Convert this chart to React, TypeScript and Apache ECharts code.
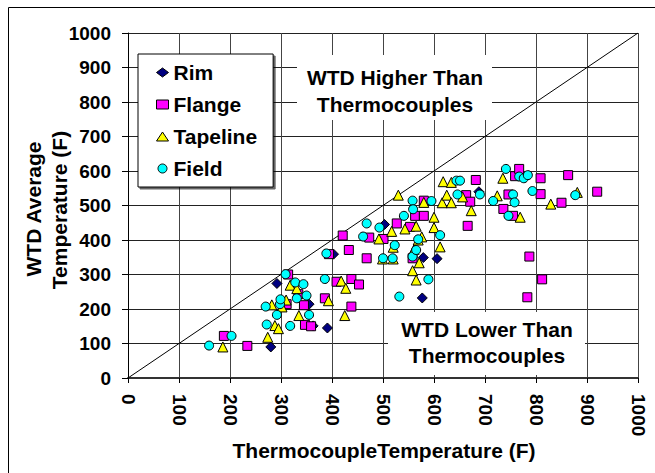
import React, { useEffect, useRef } from "react";
import * as echarts from "echarts";

// Thermocouple temperature (F) vs WTD average temperature (F)
const rim: number[][] = [
  [280, 90], [292, 274], [355, 214], [363, 151], [391, 145], [403, 359],
  [503, 445], [579, 349], [577, 232], [606, 346], [688, 540],
];

const flange: number[][] = [
  [188, 122], [234, 93], [314, 300], [311, 214], [334, 243], [345, 211],
  [347, 154], [359, 150], [386, 231], [394, 359], [409, 279], [421, 413],
  [433, 371], [438, 287], [438, 207], [453, 271], [468, 347], [473, 407],
  [501, 403], [527, 448], [553, 438], [558, 347], [563, 470], [580, 470],
  [580, 514], [663, 530], [666, 441], [671, 511], [682, 574], [736, 490],
  [746, 532], [759, 585], [767, 606], [755, 470], [787, 352], [783, 234],
  [809, 579], [809, 533], [812, 286], [850, 508], [863, 588], [920, 540],
];

const tapeline: number[][] = [
  [186, 90], [274, 118], [282, 212], [288, 152], [295, 143], [302, 206],
  [310, 226], [318, 269], [331, 259], [335, 181], [393, 224], [418, 281],
  [427, 260], [425, 181], [492, 403], [499, 345], [517, 425], [520, 345],
  [520, 379], [530, 530], [543, 432], [558, 311], [561, 373], [565, 440],
  [565, 284], [571, 334], [569, 400], [576, 409], [580, 509], [600, 466],
  [600, 436], [612, 380], [616, 508], [618, 569], [625, 530], [634, 567],
  [634, 508], [656, 525], [673, 485], [724, 528], [735, 579], [769, 466],
  [829, 504], [881, 538],
];

const field: number[][] = [
  [159, 94], [203, 122], [270, 207], [272, 155], [292, 183], [298, 214],
  [299, 228], [309, 301], [318, 151], [328, 277], [331, 231], [344, 272],
  [350, 239], [355, 183], [386, 287], [389, 361], [461, 410], [468, 448],
  [493, 436], [500, 347], [519, 347], [523, 385], [532, 236], [541, 470],
  [558, 514], [559, 489], [558, 352], [565, 371], [569, 402], [589, 286],
  [595, 513], [612, 414], [644, 572], [651, 572], [646, 532], [690, 532],
  [716, 513], [741, 606], [746, 470], [755, 532], [758, 509], [767, 584],
  [776, 579], [784, 588], [793, 542], [877, 530],
];

const equalityLine: number[][] = [[0, 0], [1000, 1000]];

const seriesNames = ["Rim", "Flange", "Tapeline", "Field"];
const axisMin = 0;
const axisMax = 1000;
const axisStep = 100;

const FONT = "Arial, 'Liberation Sans', Helvetica, sans-serif";

export default function App() {
  const ref = useRef<HTMLDivElement>(null);

  useEffect(() => {
    if (!ref.current) return;
    const chart = echarts.init(ref.current, null, { renderer: "svg" });

    const scatter = (name: string, symbol: string, color: string, size: number, data: number[][]) => ({
      type: "scatter",
      name,
      symbol,
      symbolSize: size,
      data,
      z: 3,
      itemStyle: { color, borderColor: "#000", borderWidth: 1, opacity: 1 },
    });

    const labelStyle = {
      fontSize: 19,
      fontWeight: "bold",
      color: "#000",
      fontFamily: FONT,
      formatter: (v: number) => String(v),
    };

    const textEl = (text: string, x: number, y: number, rotation = 0) => ({
      type: "text",
      x,
      y,
      rotation,
      z: 12,
      style: {
        text,
        fill: "#000",
        font: `bold 21px ${FONT}`,
        fontSize: 21,
        fontWeight: "bold",
        fontFamily: FONT,
        align: "center",
        verticalAlign: "middle",
        textAlign: "center",
        textVerticalAlign: "middle",
      },
    });

    chart.setOption({
      animation: false,
      backgroundColor: "#fff",
      grid: { left: 128, right: 17, top: 33, bottom: 95, containLabel: false },
      xAxis: {
        type: "value",
        min: axisMin,
        max: axisMax,
        interval: axisStep,
        axisLine: { show: true, onZero: false, lineStyle: { color: "#333", width: 2 } },
        axisTick: { show: true, length: 5, lineStyle: { color: "#000", width: 1 } },
        axisLabel: { ...labelStyle, rotate: -90, margin: 16 },
        splitLine: { show: true, lineStyle: { color: "#444", width: 1 } },
      },
      yAxis: {
        type: "value",
        min: axisMin,
        max: axisMax,
        interval: axisStep,
        axisLine: { show: true, onZero: false, lineStyle: { color: "#000", width: 1 } },
        axisTick: { show: true, length: 6, lineStyle: { color: "#000", width: 1 } },
        axisLabel: { ...labelStyle, margin: 17 },
        splitLine: { show: true, lineStyle: { color: "#222", width: 1 } },
      },
      legend: {
        orient: "vertical",
        left: 138,
        top: 54,
        data: seriesNames,
        itemWidth: 12,
        itemHeight: 9,
        itemGap: 11,
        padding: [8, 16, 8, 18],
        backgroundColor: "#fff",
        borderColor: "#000",
        borderWidth: 1,
        shadowColor: "rgba(0,0,0,0.6)",
        shadowBlur: 0,
        shadowOffsetX: 2,
        shadowOffsetY: 2,
        itemStyle: { borderColor: "#000", borderWidth: 1 },
        textStyle: { fontSize: 21, fontWeight: "bold", color: "#000", fontFamily: FONT },
        selectedMode: false,
      },
      graphic: [
        {
          type: "rect",
          z: 20,
          shape: { x: 8.5, y: 7.5, width: 700, height: 500 },
          style: { fill: "none", stroke: "#000", lineWidth: 1 },
          silent: true,
        },
        {
          type: "rect",
          z: 10,
          shape: { x: 297, y: 55, width: 195, height: 65 },
          style: { fill: "#fff", stroke: "none" },
        },
        {
          type: "rect",
          z: 10,
          shape: { x: 388, y: 312, width: 197, height: 63 },
          style: { fill: "#fff", stroke: "none" },
        },
        textEl("WTD Higher Than", 395, 77),
        textEl("Thermocouples", 395, 104),
        textEl("WTD Lower Than", 487, 329),
        textEl("Thermocouples", 487, 355),
        textEl("ThermocoupleTemperature (F)", 384, 450),
        textEl("WTD Average", 33, 209, Math.PI / 2),
        textEl("Temperature (F)", 59, 210, Math.PI / 2),
      ],
      series: [
        {
          type: "line",
          name: "equality",
          data: equalityLine,
          showSymbol: false,
          symbol: "none",
          silent: true,
          z: 2,
          lineStyle: { color: "#000", width: 1 },
        },
        scatter("Rim", "diamond", "#000080", 10, rim),
        scatter("Flange", "rect", "#ff00ff", 9, flange),
        scatter("Tapeline", "triangle", "#ffff00", 10, tapeline),
        scatter("Field", "circle", "#00ffff", 9, field),
      ],
    });

    return () => chart.dispose();
  }, []);

  return (
    <div
      ref={ref}
      style={{ position: "fixed", left: 0, top: 0, width: 655, height: 473, background: "#fff" }}
    />
  );
}
